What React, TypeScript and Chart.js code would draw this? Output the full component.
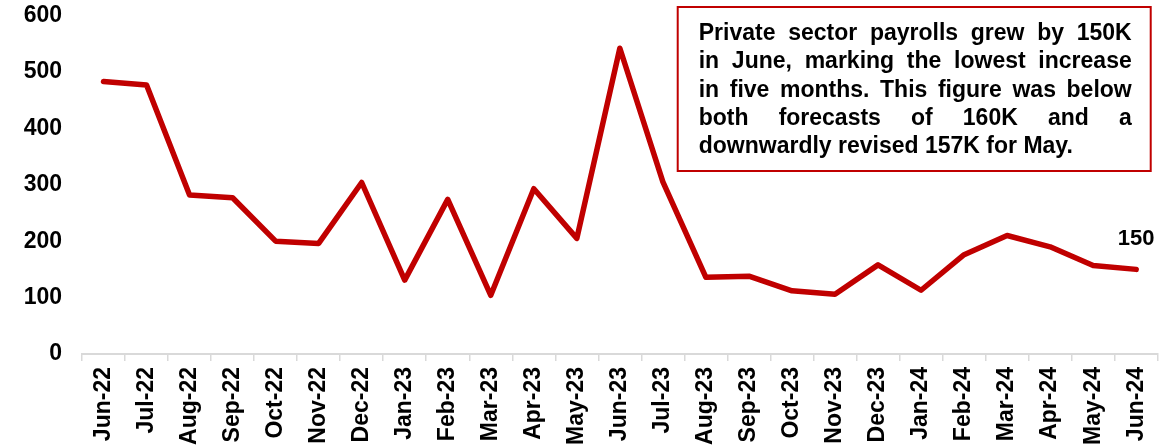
import React, { useEffect, useRef } from "react";
import { Chart, registerables } from "chart.js";

Chart.register(...registerables);

const categories = [
  "Jun-22", "Jul-22", "Aug-22", "Sep-22", "Oct-22", "Nov-22", "Dec-22",
  "Jan-23", "Feb-23", "Mar-23", "Apr-23", "May-23", "Jun-23", "Jul-23",
  "Aug-23", "Sep-23", "Oct-23", "Nov-23", "Dec-23", "Jan-24", "Feb-24",
  "Mar-24", "Apr-24", "May-24", "Jun-24",
];

const payrolls = [
  483, 477, 282, 277, 200, 196, 304, 131, 274, 104, 293, 205, 542, 305,
  136, 138, 112, 106, 158, 113, 176, 210, 190, 157, 150,
];

const yTicks = [0, 100, 200, 300, 400, 500, 600];

const noteLines = [
  "Private sector payrolls grew by 150K",
  "in June, marking the lowest increase",
  "in five months. This figure was below",
  "both forecasts of 160K and a",
  "downwardly revised 157K for May.",
];

const RED = "#C00000";
const FONT_FAMILY = '"Liberation Sans", Arial, Helvetica, sans-serif';

const annotationPlugin = {
  id: "noteBox",
  afterDraw(chart: any) {
    const ctx = chart.ctx;
    const area = chart.chartArea;
    ctx.save();
    const boxRight = area.right - 7;
    const boxLeft = boxRight - 473;
    const boxTop = area.top - 8.5;
    const boxH = 164;
    ctx.strokeStyle = RED;
    ctx.lineWidth = 2;
    ctx.strokeRect(boxLeft, boxTop, boxRight - boxLeft, boxH);
    ctx.fillStyle = "#000000";
    ctx.font = `bold 23px ${FONT_FAMILY}`;
    ctx.textBaseline = "alphabetic";
    ctx.textAlign = "left";
    const textLeft = boxLeft + 21;
    const textWidth = 433;
    const firstBaseline = boxTop + 33;
    const lh = 28.3;
    noteLines.forEach((line, i) => {
      const y = firstBaseline + i * lh;
      const words = line.split(" ");
      if (i === noteLines.length - 1 || words.length < 2) {
        ctx.fillText(line, textLeft, y);
        return;
      }
      const widths = words.map((w) => ctx.measureText(w).width);
      const total = widths.reduce((a, b) => a + b, 0);
      const gap = (textWidth - total) / (words.length - 1);
      let x = textLeft;
      words.forEach((w, j) => {
        ctx.fillText(w, x, y);
        x += widths[j] + gap;
      });
    });

    const meta = chart.getDatasetMeta(0);
    const lastIdx = payrolls.length - 1;
    const pt = meta.data[lastIdx];
    if (pt) {
      ctx.font = `bold 22px ${FONT_FAMILY}`;
      ctx.textAlign = "center";
      ctx.fillText(String(payrolls[lastIdx]), pt.x, pt.y - 24);
    }
    ctx.restore();
  },
};

export default function App() {
  const canvasRef = useRef<HTMLCanvasElement | null>(null);

  useEffect(() => {
    document.body.style.margin = "0";
    const canvas = canvasRef.current;
    if (!canvas) return;
    const chart = new Chart(canvas, {
      type: "line",
      data: {
        labels: categories,
        datasets: [
          {
            label: "Private payrolls",
            data: payrolls,
            borderColor: RED,
            backgroundColor: RED,
            borderWidth: 5.5,
            pointRadius: 0,
            pointHoverRadius: 0,
            tension: 0,
            borderJoinStyle: "round",
            borderCapStyle: "round",
          },
        ],
      },
      options: {
        animation: false,
        responsive: true,
        maintainAspectRatio: false,
        layout: { padding: { left: 0, right: 10, top: 0, bottom: 0 } },
        plugins: {
          legend: { display: false },
          tooltip: { enabled: false },
          title: { display: false },
        },
        scales: {
          x: {
            type: "category",
            offset: true,
            grid: {
              display: true,
              offset: true,
              drawOnChartArea: false,
              drawTicks: true,
              tickLength: 7,
              color: "#d9d9d9",
              lineWidth: 1.5,
            },
            border: { display: true, color: "#d9d9d9", width: 2 },
            ticks: {
              autoSkip: false,
              minRotation: 90,
              maxRotation: 90,
              padding: 6,
              color: "#000000",
              font: { family: FONT_FAMILY, size: 23, weight: "bold" },
            },
            afterFit: (s: any) => {
              s.height = 92;
            },
          },
          y: {
            min: yTicks[0],
            max: yTicks[yTicks.length - 1],
            afterBuildTicks: (s: any) => {
              s.ticks = yTicks.map((v) => ({ value: v }));
            },
            grid: { display: false, drawTicks: false },
            border: { display: false },
            ticks: {
              padding: 20,
              color: "#000000",
              font: { family: FONT_FAMILY, size: 23, weight: "bold" },
            },
            afterFit: (s: any) => {
              s.width = 82;
              s.paddingTop = 15.5;
              s.paddingBottom = 0;
            },
          },
        },
      },
      plugins: [annotationPlugin],
    });
    return () => chart.destroy();
  }, []);

  return (
    <div style={{ position: "relative", width: "1170px", height: "446px" }}>
      <canvas ref={canvasRef} />
    </div>
  );
}
